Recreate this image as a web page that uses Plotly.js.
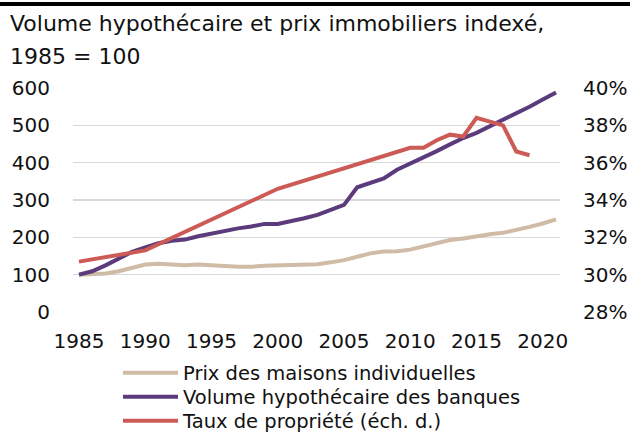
<!DOCTYPE html>
<html>
<head>
<meta charset="utf-8">
<script src="https://cdn.plot.ly/plotly-3.0.1.min.js"></script>
<style>html,body{margin:0;padding:0;background:#fff;}#chart{width:630px;height:434px;}</style>
</head>
<body>
<div id="chart"></div>
<script>
const years = [1985,1986,1987,1988,1989,1990,1991,1992,1993,1994,1995,1996,1997,1998,1999,2000,2001,2002,2003,2004,2005,2006,2007,2008,2009,2010,2011,2012,2013,2014,2015,2016,2017,2018,2019,2020,2021];
const housePrices = [100,101,103,109,119,127,129,128,125,127,126,123,121,121,124,125,127,127,128,133,139,148,157,162,163,167,175,185,193,197,203,208,212,219,228,237,248];
const mortgageVolume = [100,109,125,143,161,173,184,191,194,203,210,218,224,229,236,236,243,251,260,273,287,334,345,358,381,397,414,431,449,466,480,497,515,533,550,569,588];
const ownershipYears = [1985,1990,2000,2010,2011,2012,2013,2014,2015,2016,2017,2018,2019];
const ownershipRate = [30.7,31.3,34.6,36.8,36.8,37.2,37.5,37.4,38.4,38.2,38.0,36.6,36.4];
const seriesNames = ["Prix des maisons individuelles","Volume hypothécaire des banques","Taux de propriété (éch. d.)"];
const xTicks = [1985,1990,1995,2000,2005,2010,2015,2020];
const leftTicks = [0,100,200,300,400,500,600];
const rightTicks = [28,30,32,34,36,38,40];
const titleLines = ["Volume hypothécaire et prix immobiliers indexé,","1985 = 100"];

const FONT = "DejaVu Sans";
const L = 73, R = 560, T = 88, B = 312;
const W = R - L, H = B - T;
const px2x = p => (p - L) / W;
const px2y = p => (B - p) / H;

const traces = [
  {x: years, y: housePrices, name: seriesNames[0], type: 'scatter', mode: 'lines',
   line: {color: '#CFBBA6', width: 4}, legend: 'legend'},
  {x: years, y: mortgageVolume, name: seriesNames[1], type: 'scatter', mode: 'lines',
   line: {color: '#5B3B7C', width: 4}, legend: 'legend2'},
  {x: ownershipYears, y: ownershipRate, name: seriesNames[2], type: 'scatter', mode: 'lines',
   line: {color: '#CC5A55', width: 4}, yaxis: 'y2', legend: 'legend3'}
];

function legendAt(yPx) {
  return {x: px2x(118), xanchor: 'left', y: px2y(yPx), yanchor: 'middle', orientation: 'v',
          font: {family: FONT, size: 19.5, color: '#111'}, bgcolor: 'rgba(0,0,0,0)',
          itemwidth: 55, borderwidth: 0};
}

const layout = {
  width: 630, height: 434,
  margin: {l: L, r: 630 - R, t: T, b: 434 - B, pad: 0, autoexpand: false},
  paper_bgcolor: '#fff', plot_bgcolor: '#fff',
  font: {family: FONT, size: 20, color: '#111'},
  showlegend: true,
  xaxis: {range: [1984.55, 2021.3], tickvals: xTicks, ticktext: xTicks.map(String),
          showgrid: false, zeroline: false, showline: false, ticks: '',
          ticklabelstandoff: 15, tickfont: {family: FONT, size: 20, color: '#111'}},
  yaxis: {range: [0, 600], tickvals: leftTicks, showgrid: true, gridcolor: '#D9D9D9', gridwidth: 1.5,
          zeroline: false, showline: false, ticks: '', ticklabelstandoff: 22,
          tickfont: {family: FONT, size: 20, color: '#111'}},
  yaxis2: {range: [28, 40], tickvals: rightTicks, ticktext: rightTicks.map(v => v + '%'),
           overlaying: 'y', side: 'right', showgrid: false, zeroline: false, showline: false,
           ticks: '', ticklabelstandoff: 22, tickfont: {family: FONT, size: 20, color: '#111'}},
  legend: legendAt(373),
  legend2: legendAt(397),
  legend3: legendAt(421),
  shapes: [{type: 'rect', xref: 'paper', yref: 'paper', x0: px2x(0), x1: px2x(630),
            y0: px2y(2), y1: px2y(6), fillcolor: '#000', line: {width: 0}}],
  annotations: [
    {text: titleLines[0], xref: 'paper', yref: 'paper', x: px2x(8), y: px2y(23),
     xanchor: 'left', yanchor: 'middle', showarrow: false, font: {family: FONT, size: 22, color: '#111'}},
    {text: titleLines[1], xref: 'paper', yref: 'paper', x: px2x(8), y: px2y(56),
     xanchor: 'left', yanchor: 'middle', showarrow: false, font: {family: FONT, size: 22, color: '#111'}}
  ]
};

Plotly.newPlot('chart', traces, layout, {displayModeBar: false, staticPlot: true});
</script>
</body>
</html>
